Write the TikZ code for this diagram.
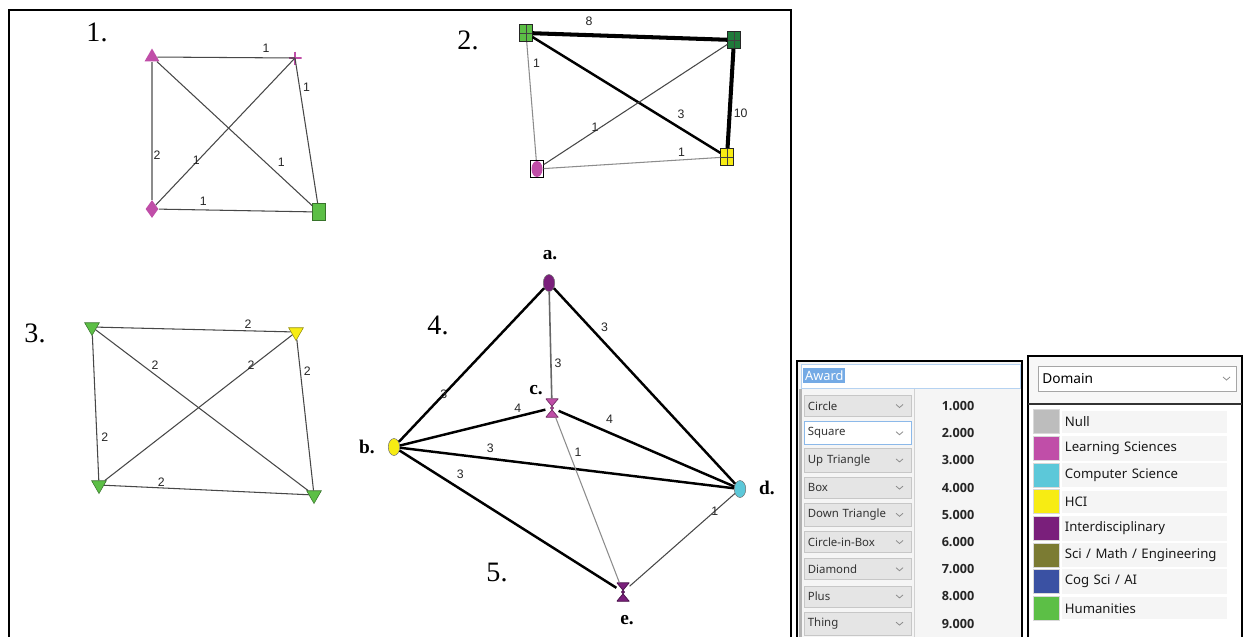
\documentclass[tikz,border=0pt]{standalone}
\usepackage{fontspec}
\setmainfont{Liberation Serif}
\newfontfamily\weightfont{Liberation Sans}
\newfontfamily\guifont{Noto Sans}
\newfontfamily\guibold{Open Sans}
\usepackage{xcolor}
\usepackage{tikz}
\usetikzlibrary{shapes.geometric,positioning}

\definecolor{nullgray}{HTML}{BDBDBD}
\definecolor{learnsci}{HTML}{C04EA8}
\definecolor{compsci}{HTML}{5CC8D9}
\definecolor{hci}{HTML}{F7EC13}
\definecolor{interdis}{HTML}{7A1F7B}
\definecolor{scimath}{HTML}{7B7B33}
\definecolor{cogsci}{HTML}{3A51A3}
\definecolor{humanit}{HTML}{5CBF46}
\definecolor{deepgreen}{HTML}{1F7A3A}
\definecolor{selblue}{HTML}{5B9BE0}

\begin{document}
\begin{tikzpicture}[
    x=0.02cm, y=-0.02cm,
    grayedge/.style={draw=black!45, line width=0.6pt},
    darkedge/.style={draw=black!72, line width=0.6pt},
    midedge/.style={draw=black!60, line width=0.9pt},
    boldedge/.style={draw=black, line width=1.4pt},
    heavyedge/.style={draw=black, line width=2.3pt},
    wt/.style={font=\weightfont\fontsize{7}{7}\selectfont, inner sep=0pt, text=black!85},
    panelno/.style={font=\fontsize{16}{16}\selectfont},
    vname/.style={font=\bfseries\fontsize{11}{11}\selectfont},
    uptri/.style={regular polygon, regular polygon sides=3, minimum size=0.34cm, inner sep=0pt},
    downtri/.style={uptri, shape border rotate=180},
    diam/.style={diamond, minimum width=0.26cm, minimum height=0.36cm, inner sep=0pt},
    tallbox/.style={rectangle, minimum width=0.25cm, minimum height=0.35cm, inner sep=0pt},
    plusmark/.style={rectangle, minimum size=0.26cm, inner sep=0pt,
        path picture={\draw[learnsci, line width=0.7pt]
            (path picture bounding box.north) -- (path picture bounding box.south)
            (path picture bounding box.west) -- (path picture bounding box.east);}},
    crossbox/.style={tallbox, draw=black!85, line width=0.4pt,
        path picture={\draw[black!75, line width=0.4pt]
            (path picture bounding box.north) -- (path picture bounding box.south)
            (path picture bounding box.west) -- (path picture bounding box.east);}},
    ringbox/.style={tallbox, draw=black, line width=0.5pt,
        path picture={\fill[#1] (path picture bounding box.center) ellipse (0.11cm and 0.16cm);}},
    blob/.style={ellipse, minimum width=0.23cm, minimum height=0.34cm, inner sep=0pt, draw=black!55, line width=0.3pt},
    hourglass/.style={rectangle, minimum width=0.25cm, minimum height=0.37cm, inner sep=0pt,
        path picture={\filldraw[fill=#1, draw=#1!60!black, line width=0.4pt]
            (path picture bounding box.north west) -- (path picture bounding box.north east)
            -- ([xshift=-0.03cm]path picture bounding box.center)
            -- (path picture bounding box.south east) -- (path picture bounding box.south west)
            -- ([xshift=0.03cm]path picture bounding box.center) -- cycle;}},
    combo/.style={rectangle, draw=black!22, fill=black!10, minimum width=2.14cm, minimum height=0.42cm,
        text width=2.0cm, inner xsep=0.07cm, align=left, font=\guifont\fontsize{6.5}{8}\selectfont, text=black!80},
    combosel/.style={combo, fill=white, draw=selblue!70},
    valtext/.style={font=\guibold\bfseries\fontsize{7.2}{8}\selectfont, text=black!85},
    selmark/.style={fill=selblue!85, text=white, font=\guifont\fontsize{7.3}{8}\selectfont, inner xsep=1pt, inner ysep=1.5pt},
    dropbox/.style={rectangle, draw=black!35, fill=white, minimum width=3.96cm, minimum height=0.5cm,
        text width=3.8cm, inner xsep=0.08cm, align=left, font=\guifont\fontsize{7.8}{9}\selectfont},
    swatch/.style={rectangle, minimum width=0.52cm, minimum height=0.48cm, inner sep=0pt, draw=black!15, line width=0.3pt},
    domrow/.style={rectangle, fill=black!4, minimum width=3.3cm, minimum height=0.44cm,
        text width=3.2cm, inner xsep=0.05cm, align=left, font=\guifont\fontsize{7.5}{9}\selectfont, text=black!90}
]
\useasboundingbox (0,0) rectangle (1243,636);
\fill[white] (0,0) rectangle (1243,636);

% Frame around the networks
\draw[line width=1.1pt] (9,645) -- (9,10) -- (791,10) -- (791,645);

% Network 1
\node[panelno] (no1) at (97,32) {1.};
\node[uptri, fill=learnsci] (g1tri) at (152,57) {};
\node[plusmark] (g1plus) at (295,58) {};
\node[diam, fill=learnsci] (g1dia) at (152,209) {};
\node[tallbox, fill=humanit, draw=humanit!60!black, line width=0.3pt] (g1box) at (319,212) {};

\draw[darkedge] (g1tri) -- node[wt, pos=0.79, yshift=0.2cm] {1} (g1plus.center);
\draw[darkedge] (g1plus.center) -- node[wt, pos=0.2, xshift=0.14cm] {1} (g1box);
\draw[grayedge] (g1tri) -- node[wt, pos=0.68, xshift=0.1cm] {2} (g1dia);
\draw[darkedge] (g1dia) -- node[wt, pos=0.29, yshift=0.05cm] {1} (g1plus.center);
\draw[darkedge] (g1tri) -- node[wt, pos=0.8, yshift=0.3cm] {1} (g1box);
\draw[darkedge] (g1dia) -- node[wt, pos=0.29, yshift=0.18cm] {1} (g1box);

% Network 2
\node[panelno] (no2) at (468,40) {2.};
\node[crossbox, fill=humanit] (g2tl) at (526,33) {};
\node[crossbox, fill=deepgreen] (g2tr) at (734,40) {};
\node[crossbox, fill=hci] (g2br) at (727,157) {};
\node[ringbox=learnsci] (g2bl) at (537,169) {};

\draw[heavyedge] (g2tl) -- node[wt, pos=0.29, yshift=0.28cm] {8} (g2tr);
\draw[heavyedge] (g2tr) -- node[wt, pos=0.65, xshift=0.22cm] {10} (g2br);
\draw[boldedge] (g2tl) -- node[wt, pos=0.79, yshift=0.28cm] {3} (g2br);
\draw[grayedge] (g2tl) -- node[wt, pos=0.18, xshift=0.16cm] {1} (g2bl);
\draw[darkedge] (g2bl) -- node[wt, pos=0.28, yshift=0.08cm] {1} (g2tr);
\draw[grayedge] (g2bl) -- node[wt, pos=0.78, yshift=0.16cm] {1} (g2br);

% Network 3
\node[panelno] (no3) at (35,333) {3.};
\node[downtri, fill=humanit, draw=humanit!60!black, line width=0.3pt] (g3tl) at (92,327) {};
\node[downtri, fill=hci, draw=hci!60!black, line width=0.3pt] (g3tr) at (296,332) {};
\node[downtri, fill=humanit, draw=humanit!60!black, line width=0.3pt] (g3bl) at (99,485) {};
\node[downtri, fill=humanit, draw=humanit!60!black, line width=0.3pt] (g3br) at (314,495) {};

\draw[darkedge] (g3tl) -- node[wt, pos=0.78, yshift=0.14cm] {2} (g3tr);
\draw[darkedge] (g3tl) -- node[wt, pos=0.28, yshift=0.2cm] {2} (g3br);
\draw[darkedge] (g3bl) -- node[wt, pos=0.78, yshift=0.04cm] {2} (g3tr);
\draw[darkedge] (g3tr) -- node[wt, pos=0.21, xshift=0.14cm] {2} (g3br);
\draw[darkedge] (g3tl) -- node[wt, pos=0.7, xshift=0.16cm] {2} (g3bl);
\draw[darkedge] (g3bl) -- node[wt, pos=0.28, yshift=0.12cm] {2} (g3br);

% Networks 4 and 5
\node[panelno] (no4) at (438,325) {4.};
\node[panelno] (no5) at (497,572) {5.};
\node[blob, fill=interdis] (va) at (549,283) {};
\node[blob, fill=hci] (vb) at (394,447) {};
\node[hourglass=learnsci] (vc) at (552,408) {};
\node[blob, fill=compsci] (vd) at (740,489) {};
\node[hourglass=interdis] (ve) at (623,592) {};

\node[vname] (la) at (550,255) {a.};
\node[vname] (lb) at (367,447) {b.};
\node[vname] (lc) at (536,390) {c.};
\node[vname] (ld) at (767,488) {d.};
\node[vname] (le) at (627,620) {e.};

\draw[boldedge] (va) -- node[wt, pos=0.69] {3} (vb);
\draw[midedge] (va) -- node[wt, pos=0.67, xshift=0.14cm] {3} (vc);
\draw[boldedge] (va) -- node[wt, pos=0.28, yshift=0.32cm] {3} (vd);
\draw[boldedge] (vb) -- node[wt, pos=0.81, yshift=0.17cm] {4} (vc);
\draw[boldedge] (vc) -- node[wt, pos=0.29, yshift=0.27cm] {4} (vd);
\draw[boldedge] (vb) -- node[wt, pos=0.27, yshift=0.2cm] {3} (vd);
\draw[boldedge] (vb) -- node[wt, pos=0.28, yshift=0.3cm] {3} (ve);
\draw[grayedge] (vc) -- node[wt, pos=0.21, xshift=0.18cm] {1} (ve);
\draw[darkedge] (vd) -- node[wt, pos=0.19] {1} (ve);

% Award legend
\draw[line width=1.1pt, fill=black!4] (797,361) rectangle (1022,645);
\draw[draw=selblue!45, fill=white] (801,364) rectangle (1020,388);
\node[selmark, anchor=west] (award) at (803,375.5) {Award};
\fill[black!30] (799,389) rectangle (802,645);
\draw[black!18] (914,389) -- (914,645);
\foreach \shp/\val/\sty [count=\i] in {Circle/1.000/combo, Square/2.000/combosel,
    Up Triangle/3.000/combo, Box/4.000/combo, Down Triangle/5.000/combo,
    Circle-in-Box/6.000/combo, Diamond/7.000/combo, Plus/8.000/combo, Thing/9.000/combo}{
    \pgfmathsetmacro\ry{406+27.2*(\i-1)}
    \node[style=\sty, anchor=west] (shp\i) at (804,\ry) {\shp};
    \draw[black!45, line width=0.45pt] (896,\ry-1.5) -- (899.5,\ry+1.5) -- (903,\ry-1.5);
    \node[valtext] (val\i) at (958,\ry) {\val};
}

% Domain legend
\draw[line width=1.1pt, fill=black!3] (1028,356) rectangle (1242,645);
\node[dropbox, anchor=west] (domsel) at (1038,378.5) {Domain};
\draw[black!45, line width=0.45pt] (1223,377) -- (1226.5,380) -- (1230,377);
\fill[white] (1030,405) rectangle (1241,645);
\draw[black!80, line width=1pt] (1028,404) -- (1242,404);
\foreach \dom/\col [count=\i] in {Null/nullgray, Learning Sciences/learnsci,
    Computer Science/compsci, HCI/hci, Interdisciplinary/interdis,
    {Sci / Math / Engineering}/scimath, {Cog Sci / AI}/cogsci, Humanities/humanit}{
    \pgfmathsetmacro\ry{421.5+26.7*(\i-1)}
    \node[swatch, fill=\col] (sw\i) at (1046,\ry) {};
    \node[domrow, anchor=west] (dom\i) at (1062,\ry) {\dom};
}

\end{tikzpicture}
\end{document}
